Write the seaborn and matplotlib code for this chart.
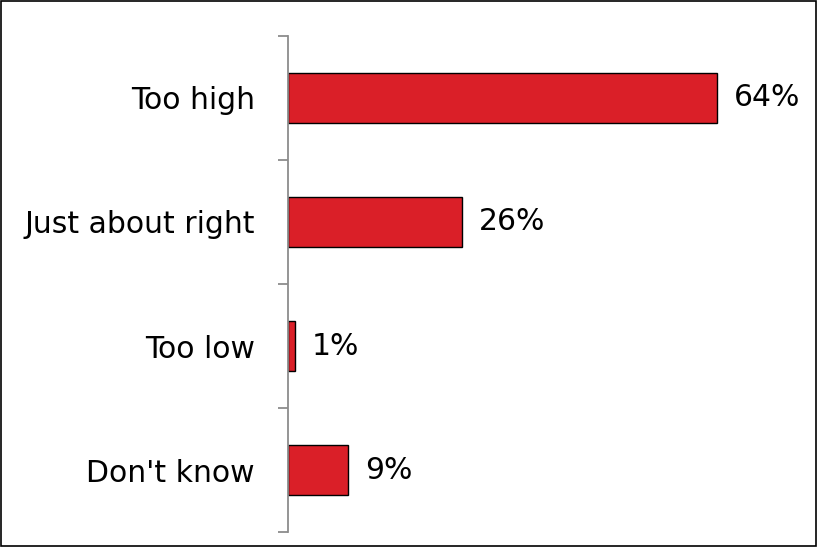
"""Horizontal bar chart: opinion on level (Too high / Just about right / ...)."""
import matplotlib
matplotlib.use("Agg")
import matplotlib.pyplot as plt
import numpy as np
import pandas as pd
import seaborn as sns

# ---------------------------------------------------------------------------
# Data
# ---------------------------------------------------------------------------
categories = ["Too high", "Just about right", "Too low", "Don't know"]
values = [64, 26, 1, 9]
value_labels = ["64%", "26%", "1%", "9%"]

BAR_COLOR = "#DA1F28"
SPINE_GRAY = "#8C8C8C"
FONT_SIZE = 21.5

sns.set_style("white")
plt.rcParams["font.family"] = ["DejaVu Sans"]
plt.rcParams["text.color"] = "black"
plt.rcParams["ytick.color"] = "black"

df = pd.DataFrame({"category": categories, "value": values})

fig = plt.figure(figsize=(8.17, 5.47), dpi=100)
ax = fig.add_axes([0.3525, 0.0274, 0.627, 0.9068])

sns.barplot(
    data=df, x="value", y="category", orient="h",
    color=BAR_COLOR, saturation=1, width=0.4,
    edgecolor="black", linewidth=1.0, ax=ax,
)

ax.bar_label(ax.containers[0], labels=value_labels, padding=12,
             fontsize=FONT_SIZE, color="black")

ax.set_xlim(0, 76.4)
ax.set_ylim(len(categories) - 0.5, -0.5)
ax.set_xlabel("")
ax.set_ylabel("")
ax.set_xticks([])

# spines: only the gray left axis line
for side in ("top", "right", "bottom"):
    ax.spines[side].set_visible(False)
ax.spines["left"].set_color(SPINE_GRAY)
ax.spines["left"].set_linewidth(1.3)

# category labels without marks, boundary ticks between categories
ax.tick_params(axis="y", which="major", left=True, length=0, pad=24,
               labelsize=FONT_SIZE, labelcolor="black")
ax.set_yticks(np.arange(-0.5, len(categories)), minor=True)
ax.tick_params(axis="y", which="minor", left=True, length=7.5, width=1.3,
               color=SPINE_GRAY, direction="out")

# black frame round the whole figure
fig.patches.append(plt.Rectangle((0.001, 0.001), 0.998, 0.997,
                                 transform=fig.transFigure, fill=False,
                                 edgecolor="black", linewidth=1.2))

fig.savefig("out.png", dpi=100)
